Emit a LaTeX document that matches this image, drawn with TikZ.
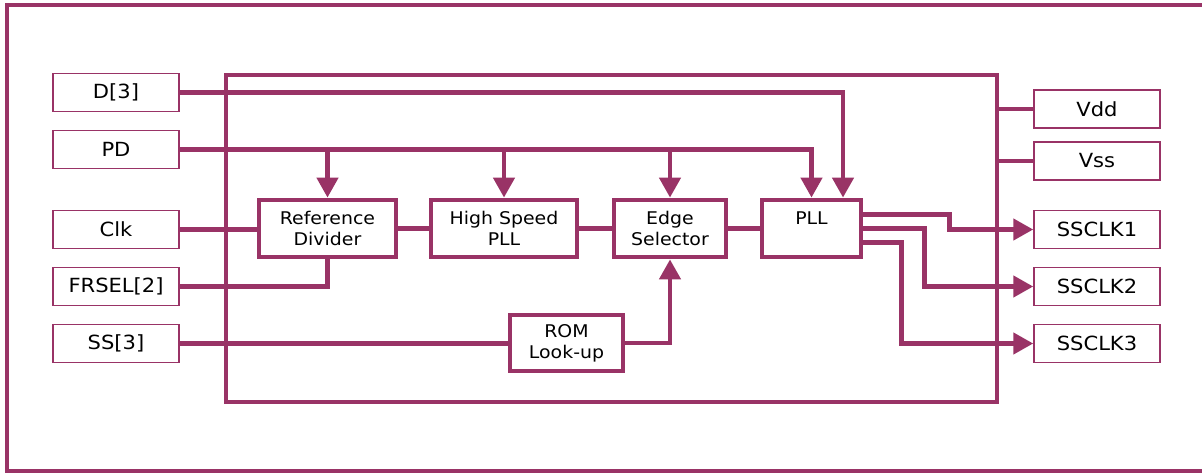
\documentclass[tikz,border=0pt]{standalone}
\usepackage{fontspec}
\setmainfont{DejaVu Sans}[FakeStretch=1.08]
\usetikzlibrary{arrows.meta}

\definecolor{plum}{RGB}{153,51,102}
\tikzstyle{pin}=[draw=plum,line width=1.5pt,minimum width=126pt,minimum height=38pt,inner sep=0pt,font=\fontsize{19.5}{21}\selectfont]
\tikzstyle{block}=[draw=plum,line width=4.8pt,inner sep=0pt,align=center,minimum height=57pt,font=\fontsize{17.5}{21}\selectfont]
\tikzstyle{wire}=[draw=plum,line width=4.5pt]
\tikzset{>={Triangle[width=21pt,length=20pt]}}

\begin{document}
\begin{tikzpicture}[x=1pt,y=-1pt]
  \useasboundingbox (0,0) rectangle (1202,473);
  % outer frame (open on the right)
  \draw[plum,line width=3.5pt] (1202,5) -- (7,5) -- (7,471) -- (1202,471);
  \node[draw=plum,line width=4.5pt,minimum width=771pt,minimum height=327pt] (chip) at (611.5,238.5) {};

  % Input pins
  \node[pin] (d3) at (116,92.5) {D[3]};
  \node[pin] (pd) at (116,149.5) {PD};
  \node[pin] (clk) at (116,229.5) {Clk};
  \node[pin] (frsel) at (116,286.5) {FRSEL[2]};
  \node[pin] (ss) at (116,343.5) {SS[3]};

  % Output pins
  \node[pin] (vdd) at (1097,109) {Vdd};
  \node[pin] (vss) at (1097,161) {Vss};
  \node[pin] (clk1) at (1097,229.5) {SSCLK1};
  \node[pin] (clk2) at (1097,286.5) {SSCLK2};
  \node[pin] (clk3) at (1097,343.5) {SSCLK3};

  % Blocks
  \node[block,minimum width=137pt] (refdiv) at (327.5,228.5) {Reference\\Divider};
  \node[block,minimum width=146pt] (hspll) at (504,228.5) {High Speed\\PLL};
  \node[block,minimum width=112pt] (edge) at (670,228.5) {Edge\\Selector};
  \node[block,minimum width=99pt] (pll) at (811.5,228.5) {PLL\\\phantom{X}};
  \node[block,minimum width=113pt,minimum height=56pt] (rom) at (566.5,343) {ROM\\Look-up};

  \coordinate (pllin) at (843,0);

  % control lines
  \draw[wire,->] (d3.east) -| (pllin |- pll.north);
  \draw[wire,->] (pd.east) -| (pll.north);
  \draw[wire,->] (pd.east -| refdiv.north) -- (refdiv.north);
  \draw[wire,->] (pd.east -| hspll.north) -- (hspll.north);
  \draw[wire,->] (pd.east -| edge.north) -- (edge.north);

  % data path
  \draw[wire] (clk.east) -- (clk.east -| refdiv.west);
  \draw[wire] (frsel.east) -| (refdiv.south);
  \draw[wire] (refdiv) -- (hspll);
  \draw[wire] (hspll) -- (edge);
  \draw[wire] (edge) -- (pll);
  \draw[wire] (ss.east) -- (ss.east -| rom.west);
  \draw[wire,->] (rom.east) -| (edge.south);

  % supplies
  \draw[wire] (vdd.west) -- (vdd.west -| chip.east);
  \draw[wire] (vss.west) -- (vss.west -| chip.east);

  % outputs
  \draw[wire,->] ([yshift=14pt]pll.east) -- ++(86,0) |- (clk1.west);
  \draw[wire,->] (pll.east) -- ++(61,0) |- (clk2.west);
  \draw[wire,->] ([yshift=-14pt]pll.east) -- ++(38,0) |- (clk3.west);
\end{tikzpicture}
\end{document}
